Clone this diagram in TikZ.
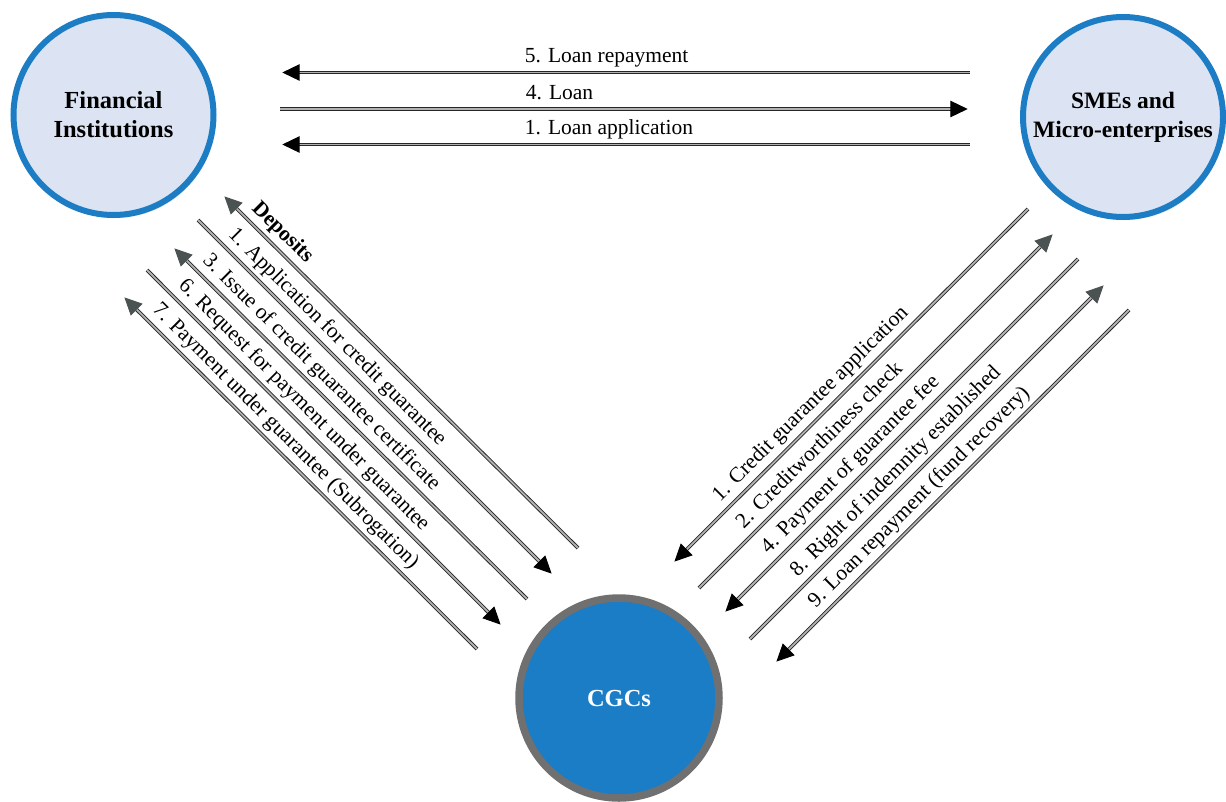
\documentclass[tikz,border=0pt]{standalone}
\usepackage{fontspec}
\setmainfont{Liberation Serif}
\usetikzlibrary{shapes,arrows.meta,positioning,shadows,decorations.markings}
\definecolor{paleblue}{RGB}{220,227,242}
\definecolor{ringblue}{RGB}{28,125,196}
\definecolor{cgcblue}{RGB}{26,125,197}
\definecolor{ringgrey}{RGB}{112,112,112}
\definecolor{headgrey}{RGB}{75,83,82}
\def\lblfont{\fontsize{21.5}{26}\selectfont}

\begin{document}
\begin{tikzpicture}[x=1pt,y=-1pt,% pixel grid, y pointing down
		party/.style={circle, minimum size=200pt, inner sep=0pt, align=center,
			font=\fontsize{24.5}{29}\selectfont\bfseries,
			line width=6pt, draw=ringblue, fill=paleblue,
			drop shadow={shadow xshift=2pt, shadow yshift=-3pt, opacity=0.2}},
		flow/.style={draw=black!85, line width=0.9pt, double=black!30,
			double distance=1.8pt, shorten >=20pt},
		tipblack/.style={postaction={decorate, decoration={markings,
			mark=at position 1 with {\arrow[black]{Triangle[length=22pt,width=20pt]}}}}},
		tipgrey/.style={postaction={decorate, decoration={markings,
			mark=at position 1 with {\arrow[headgrey]{Triangle[length=22pt,width=20pt]}}}}},
		lbl/.style={font=\lblfont, inner xsep=0pt, inner ysep=4.5pt, text depth=5pt}
	]
	\useasboundingbox (0,0) rectangle (1226,801);

	% the three parties
	\node[party] (fin) at (113.5,115) {Financial\\Institutions};
	\node[party, font=\fontsize{23.5}{29}\selectfont\bfseries] (sme) at (1123,117) {SMEs and\\Micro-enterprises};
	\node[party, draw=ringgrey, fill=cgcblue, text=white, line width=7.5pt] (cgc) at (619,698) {CGCs};

	% loose ends of the flows
	\coordinate (t5a) at (970,72.5);  \coordinate (t5b) at (279,72.5);
	\coordinate (t4a) at (280,109);   \coordinate (t4b) at (971,109);
	\coordinate (t1a) at (970,144.5); \coordinate (t1b) at (279,144.5);

	\coordinate (la) at (578,548); \coordinate (lah) at (222,194);
	\coordinate (lb) at (198,220); \coordinate (lbh) at (554,576);
	\coordinate (lc) at (527,599); \coordinate (lch) at (172,246);
	\coordinate (ld) at (147,270); \coordinate (ldh) at (503,627);
	\coordinate (le) at (477,649); \coordinate (leh) at (122,295);

	\coordinate (ra) at (1028,209); \coordinate (rah) at (672,564);
	\coordinate (rb) at (699,588);  \coordinate (rbh) at (1055,232);
	\coordinate (rc) at (1078,259); \coordinate (rch) at (723,614);
	\coordinate (rd) at (750,639);  \coordinate (rdh) at (1106,283);
	\coordinate (re) at (1129,310); \coordinate (reh) at (774,664);

	% bank <-> enterprises
	\draw[flow,tipblack] (t5a) -- node[lbl, anchor=south west, pos=0.645] {5. Loan repayment} (t5b);
	\draw[flow,tipblack] (t4a) -- node[lbl, anchor=south west, pos=0.355] {4. Loan} (t4b);
	\draw[flow,tipblack] (t1a) -- node[lbl, anchor=south west, pos=0.645] {1. Loan application} (t1b);

	% bank <-> CGCs
	\draw[flow,tipgrey]  (la) -- node[lbl, sloped, above, pos=0.86] {\bfseries Deposits} (lah);
	\draw[flow,tipblack] (lb) -- node[lbl, sloped, above, pos=0.36] {1. Application for credit guarantee} (lbh);
	\draw[flow,tipgrey]  (lc) -- node[lbl, sloped, above, pos=0.61] {3. Issue of credit guarantee certificate} (lch);
	\draw[flow,tipblack] (ld) -- node[lbl, sloped, above, pos=0.41] {6. Request for payment under guarantee} (ldh);
	\draw[flow,tipgrey]  (le) -- node[lbl, sloped, above, pos=0.57] {7. Payment under guarantee (Subrogation)} (leh);

	% enterprises <-> CGCs
	\draw[flow,tipblack] (ra) -- node[lbl, sloped, above, pos=0.58] {1. Credit guarantee application} (rah);
	\draw[flow,tipgrey]  (rb) -- node[lbl, sloped, above, pos=0.37] {2. Creditworthiness check} (rbh);
	\draw[flow,tipblack] (rc) -- node[lbl, sloped, above, pos=0.61] {4. Payment of guarantee fee} (rch);
	\draw[flow,tipgrey]  (rd) -- node[lbl, sloped, above, pos=0.44] {8. Right of indemnity established} (rdh);
	\draw[flow,tipblack] (re) -- node[lbl, sloped, above, pos=0.56] {9. Loan repayment (fund recovery)} (reh);
\end{tikzpicture}
\end{document}
